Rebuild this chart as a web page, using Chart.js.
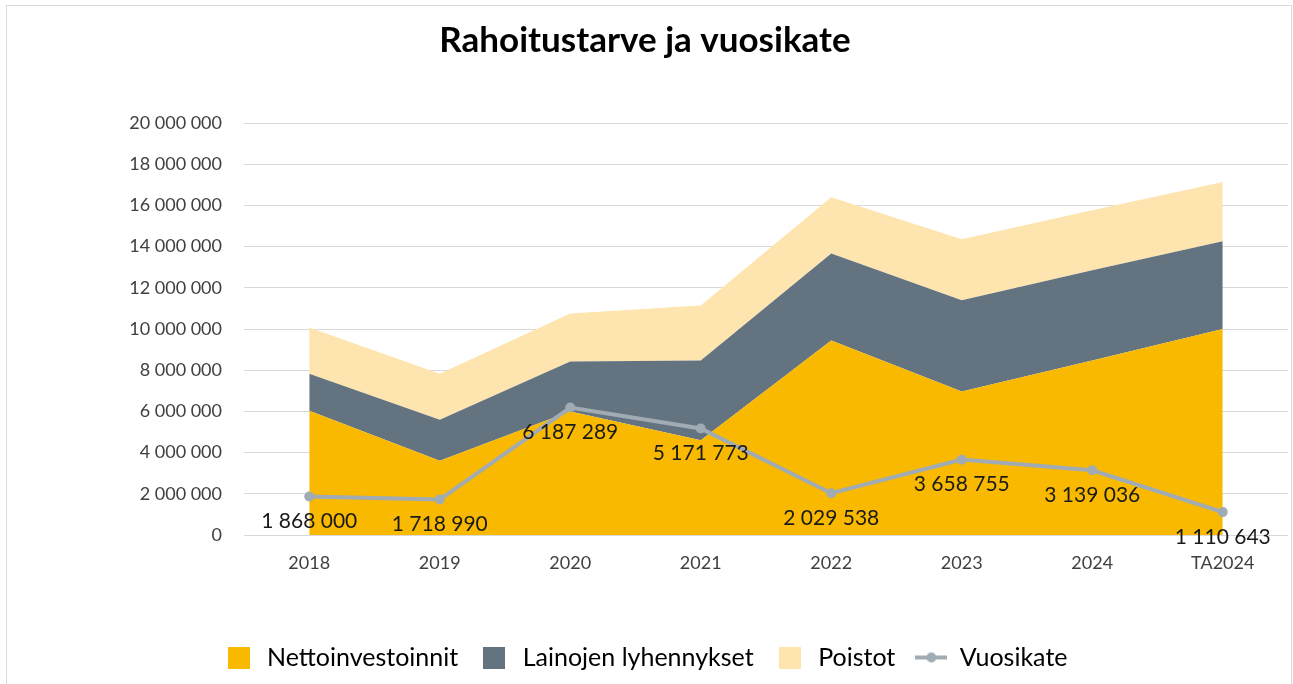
<!DOCTYPE html>
<html>
<head>
<meta charset="utf-8">
<script src="https://cdn.jsdelivr.net/npm/chart.js@4"></script>
<style>
  html, body { margin: 0; padding: 0; background: #fff; }
  #wrap { position: relative; width: 1293px; height: 684px; overflow: hidden; }
  #frame { position: absolute; left: 6px; top: 5px; width: 1284px; height: 720px; border: 1px solid #D9D9D9; }
  #chart { position: absolute; left: 0; top: 0; }
</style>
</head>
<body>
<div id="wrap">
  <div id="frame"></div>
  <canvas id="chart" width="1293" height="684"></canvas>
</div>
<script>
  // Rahoitustarve ja vuosikate - stacked area + line

  var years = ['2018', '2019', '2020', '2021', '2022', '2023', '2024', 'TA2024'];
  var nettoinvestoinnit = [6030000, 3600000, 6000000, 4600000, 9440000, 6960000, 8470000, 10000000];
  var lainojenLyhennykset = [1800000, 2000000, 2420000, 3870000, 4230000, 4430000, 4380000, 4260000];
  var poistot = [2240000, 2230000, 2330000, 2670000, 2730000, 2970000, 2920000, 2870000];
  var vuosikate = [1868000, 1718990, 6187289, 5171773, 2029538, 3658755, 3139036, 1110643];

  var COL = {
    netto: '#F9B900',
    laina: '#637480',
    poisto: '#FEE4AE',
    line: '#A1ABB3',
    text: '#404040'
  };

  function fmtNum(v) {
    return String(Math.round(v)).replace(/\B(?=(\d{3})+(?!\d))/g, ' ');
  }

  function squareIcon(color) {
    var c = document.createElement('canvas');
    c.width = 22; c.height = 22;
    var g = c.getContext('2d');
    g.fillStyle = color;
    g.fillRect(0, 0, 22, 22);
    return c;
  }

  function lineIcon(color) {
    var c = document.createElement('canvas');
    c.width = 32; c.height = 22;
    var g = c.getContext('2d');
    g.strokeStyle = color;
    g.lineWidth = 4;
    g.beginPath(); g.moveTo(0, 11); g.lineTo(32, 11); g.stroke();
    g.fillStyle = color;
    g.beginPath(); g.arc(16, 11, 5, 0, Math.PI * 2); g.fill();
    return c;
  }

  var legendIcons = [squareIcon(COL.netto), squareIcon(COL.laina), squareIcon(COL.poisto), lineIcon(COL.line)];

  var lineLabelPlugin = {
    id: 'lineLabels',
    afterDatasetsDraw: function (chart) {
      var ctx = chart.ctx;
      var meta = chart.getDatasetMeta(3);
      ctx.save();
      ctx.fillStyle = '#1A1A1A';
      ctx.font = "21px Lato";
      ctx.textAlign = 'center';
      ctx.textBaseline = 'middle';
      meta.data.forEach(function (pt, i) {
        ctx.fillText(fmtNum(vuosikate[i]), pt.x, pt.y + 25);
      });
      ctx.restore();
    }
  };

  var areaBase = { borderWidth: 0, pointRadius: 0, pointHoverRadius: 0, tension: 0, stack: 'rahoitus', order: 1 };

  new Chart(document.getElementById('chart').getContext('2d'), {
    type: 'line',
    data: {
      labels: years,
      datasets: [
        Object.assign({ label: 'Nettoinvestoinnit', data: nettoinvestoinnit, backgroundColor: COL.netto, borderColor: COL.netto, fill: 'origin' }, areaBase),
        Object.assign({ label: 'Lainojen lyhennykset', data: lainojenLyhennykset, backgroundColor: COL.laina, borderColor: COL.laina, fill: '-1' }, areaBase),
        Object.assign({ label: 'Poistot', data: poistot, backgroundColor: COL.poisto, borderColor: COL.poisto, fill: '-1' }, areaBase),
        {
          label: 'Vuosikate', data: vuosikate, stack: 'vuosikate', order: 0,
          borderColor: COL.line, backgroundColor: COL.line, borderWidth: 4,
          pointRadius: 5, pointBackgroundColor: COL.line, pointBorderWidth: 0,
          fill: false, tension: 0
        }
      ]
    },
    options: {
      responsive: false, animation: false,
      layout: { padding: { left: 0, right: 3, top: 0, bottom: 4 } },
      plugins: {
        title: {
          display: true, text: 'Rahoitustarve ja vuosikate', color: '#000',
          font: { family: 'Lato', size: 35, weight: 'bold' },
          padding: { top: 20, bottom: 61 }
        },
        legend: {
          display: true, position: 'bottom',
          labels: {
            usePointStyle: true, pointStyleWidth: 32, boxHeight: 22,
            color: '#000', font: { family: 'Lato', size: 25 }, padding: 20,
            generateLabels: function (chart) {
              return chart.data.datasets.map(function (ds, i) {
                return { text: ds.label, datasetIndex: i, pointStyle: legendIcons[i], fillStyle: ds.backgroundColor, strokeStyle: ds.backgroundColor, lineWidth: 0, fontColor: '#000' };
              });
            }
          }
        },
        tooltip: { enabled: false }
      },
      scales: {
        x: {
          offset: true,
          grid: { display: false },
          border: { display: false },
          ticks: { color: COL.text, font: { family: 'Lato', size: 18 }, padding: 9 },
          afterFit: function (scale) { scale.height = 90; }
        },
        y: {
          stacked: true, min: 0, max: 20000000,
          grid: { color: '#D9D9D9', lineWidth: 1, drawTicks: false },
          border: { display: false },
          ticks: { stepSize: 2000000, color: COL.text, font: { family: 'Lato', size: 18 }, padding: 22, callback: function (v) { return fmtNum(v); } },
          afterFit: function (scale) { scale.width = 244; }
        }
      }
    },
    plugins: [lineLabelPlugin]
  });
</script>
</body>
</html>
